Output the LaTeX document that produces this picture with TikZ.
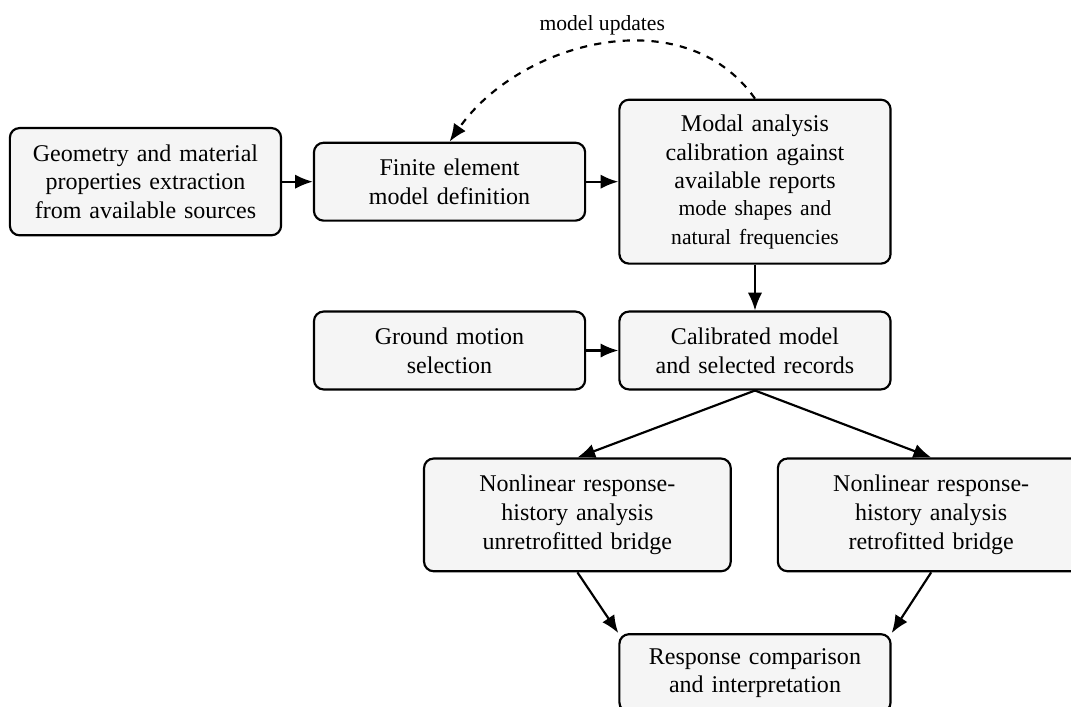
\documentclass[tikz,border=0pt]{standalone}
\usepackage{fontspec}
\setmainfont{Liberation Serif}
\usepackage{tikz}
\usetikzlibrary{
	shapes.geometric,
	arrows.meta,
	positioning
}

\begin{document}
\begin{tikzpicture}[
				stage/.style={
					rectangle, draw, line width=0.9pt, rounded corners=4pt,
					fill=gray!8,
					minimum width=3.97cm, text width=3.6cm,
					minimum height=1.14cm,
					align=center
				},
				widestage/.style={
					stage, minimum width=4.49cm, text width=4.1cm
				},
				arrow/.style={-{Latex[length=2.6mm,width=2.1mm]}, line width=0.9pt, black}
				]
				
				\useasboundingbox (0,0) rectangle (15.68,-10.34);
				
				% geometry
				\node[stage, minimum height=1.57cm] (geometry) at (2.13,-2.66)
					{Geometry and material\\ properties extraction\\ from available sources};
				
				% FE model
				\node[stage, right=0.45cm of geometry] (femodel) {Finite element\\ model definition};
				
				% modal analysis
				\node[stage, minimum height=2.40cm, right=0.47cm of femodel] (modal)
					{Modal analysis\\ calibration against\\ available reports\\ {\small mode shapes and\\ natural frequencies}};
				
				% calibrated model
				\node[stage, below=0.67cm of modal] (calibrated) {Calibrated model\\ and selected records};
				
				% ground motions
				\node[stage, left=0.47cm of calibrated] (groundMotion) {Ground motion\\ selection};
				
				% nonlinear analyses
				\node[widestage, minimum height=1.65cm, below=0.98cm of calibrated, xshift=-2.6cm] (unretro)
					{Nonlinear response-\\ history analysis\\ unretrofitted bridge};
				\node[widestage, minimum height=1.65cm, below=0.98cm of calibrated, xshift=2.58cm] (retro)
					{Nonlinear response-\\ history analysis\\ retrofitted bridge};
				
				% comparison
				\node[stage, below=0.89cm of unretro, xshift=2.6cm] (comparison)
					{Response comparison\\ and interpretation};
				
				% arrows
				\draw[arrow] (geometry) -- (femodel);
				\draw[arrow] (femodel) -- (modal);
				\draw[arrow] (modal) -- (calibrated);
				\draw[arrow] (groundMotion) -- (calibrated);
				\draw[arrow] (calibrated.south) -- (unretro.north);
				\draw[arrow] (calibrated.south) -- (retro.north);
				\draw[arrow] (unretro.south) -- (comparison.north west);
				\draw[arrow] (retro.south) -- (comparison.north east);
				
				% feedback loop
				\draw[arrow, dashed] (modal.north) to[out=125, in=55, looseness=1.02]
					node[midway, above, font=\small] {model updates} (femodel.north);
			\end{tikzpicture}
\end{document}
